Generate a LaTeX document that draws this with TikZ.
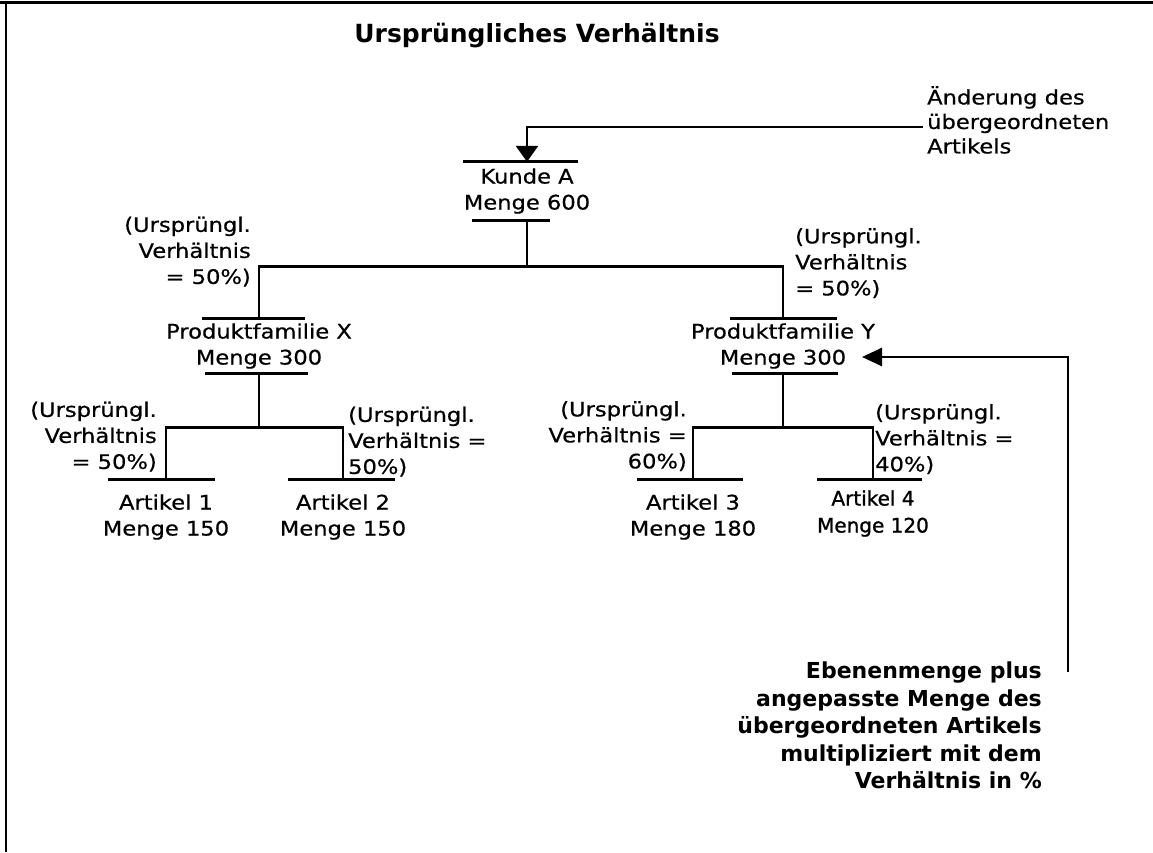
\documentclass[tikz,border=0pt]{standalone}
\usepackage{fontspec}
\setmainfont{DejaVu Sans}
\newfontfamily\pix[FakeStretch=1.13,FakeBold=0.6]{DejaVu Sans}
\newfontfamily\pixplain[FakeBold=1.2]{DejaVu Sans}
\usetikzlibrary{arrows.meta}
\tikzset{
  lbl/.style={font=\pix\fontsize{20}{26}\selectfont, inner sep=0pt},
  item/.style={lbl, align=center, minimum height=#1},
  bar/.style={line width=2.8pt},
  conn/.style={line width=2.8pt},
  note/.style={font=\bfseries\fontsize{22}{27.5}\selectfont, inner sep=0pt, align=right},
  headdown/.style={-{Triangle[length=16pt,width=22pt]}},
  headleft/.style={-{Triangle[length=20pt,width=18pt]}},
}
\begin{document}
\begin{tikzpicture}[x=1pt,y=-1pt]
\useasboundingbox (0,0) rectangle (1153,852);

% frame
\draw[line width=3pt] (0,2.5) -- (1153,2.5);
\draw[line width=2pt] (6,2.5) -- (6,852);

% title
\node[font=\bfseries\fontsize{25}{30}\selectfont, inner sep=0pt] (title) at (537,35.5) {Ursprüngliches Verhältnis};

% items of the tree
\node[item=58] (kunde) at (527,191) {Kunde A\\Menge 600};
\node[item=55] (px) at (259,346) {Produktfamilie X\\Menge 300};
\node[item=55] (py) at (783,346) {Produktfamilie Y\\Menge 300};
\node[item=74] (a1) at (166,517) {Artikel 1\\Menge 150};
\node[item=74] (a2) at (343,517) {Artikel 2\\Menge 150};
\node[item=74] (a3) at (693,517) {Artikel 3\\Menge 180};
\node[item=67, font=\pixplain\fontsize{20}{27}\selectfont] (a4) at (873,513.5) {Artikel 4\\Menge 120};

% bars above and below the items
\draw[bar] ([xshift=-64pt]kunde.north) -- ([xshift=51pt]kunde.north);
\draw[bar] ([xshift=-55pt]kunde.south) -- ([xshift=23pt]kunde.south);
\draw[bar] ([xshift=-57pt]px.north) -- ([xshift=46pt]px.north);
\draw[bar] ([xshift=-54pt]px.south) -- ([xshift=49pt]px.south);
\draw[bar] ([xshift=-53pt]py.north) -- ([xshift=54pt]py.north);
\draw[bar] ([xshift=-51pt]py.south) -- ([xshift=55pt]py.south);
\draw[bar] ([xshift=-58pt]a1.north) -- ([xshift=49pt]a1.north);
\draw[bar] ([xshift=-55pt]a2.north) -- ([xshift=52pt]a2.north);
\draw[bar] ([xshift=-56pt]a3.north) -- ([xshift=50pt]a3.north);
\draw[bar] ([xshift=-56pt]a4.north) -- ([xshift=49pt]a4.north);

% tree connectors
\draw[conn] (kunde.south) -- ++(0,46) coordinate (k1);
\draw[conn] (px.north) |- (k1) -| (py.north);
\draw[conn] (px.south) -- ++(0,54) coordinate (x1);
\draw[conn] (a1.north) |- (x1) -| (a2.north);
\draw[conn] (py.south) -- ++(0,54) coordinate (y1);
\draw[conn] (a3.north) |- (y1) -| (a4.north);

% ratio labels
\node[lbl, align=right, anchor=north east] (r1) at (251,216.5) {(Ursprüngl.\\Verhältnis\\= 50\%)};
\node[lbl, align=left, anchor=north west] (r2) at (795,228) {(Ursprüngl.\\Verhältnis\\= 50\%)};
\node[lbl, align=right, anchor=north east] (r3) at (157,401.5) {(Ursprüngl.\\Verhältnis\\= 50\%)};
\node[lbl, align=left, anchor=north west] (r4) at (348,406.5) {(Ursprüngl.\\Verhältnis =\\50\%)};
\node[lbl, align=right, anchor=north east] (r5) at (687,401) {(Ursprüngl.\\Verhältnis =\\60\%)};
\node[lbl, align=left, anchor=north west] (r6) at (875,404) {(Ursprüngl.\\Verhältnis =\\40\%)};

% change of the parent item
\node[lbl, font=\pix\fontsize{20}{24.5}\selectfont, align=left, anchor=north west] (change) at (927,86) {Änderung des\\übergeordneten\\Artikels};
\coordinate (c1) at (923,127);
\draw[conn, headdown] (c1) -| (kunde.north);

% explanation of the level quantity
\node[note, anchor=north east] (expl) at (1042,662) {Ebenenmenge plus\\angepasste Menge des\\übergeordneten Artikels\\multipliziert mit dem\\Verhältnis in \%};
\coordinate (c2) at (1068,672);
\draw[conn, headleft] (c2) |- ([xshift=79pt,yshift=-11pt]py.center);
\end{tikzpicture}
\end{document}
